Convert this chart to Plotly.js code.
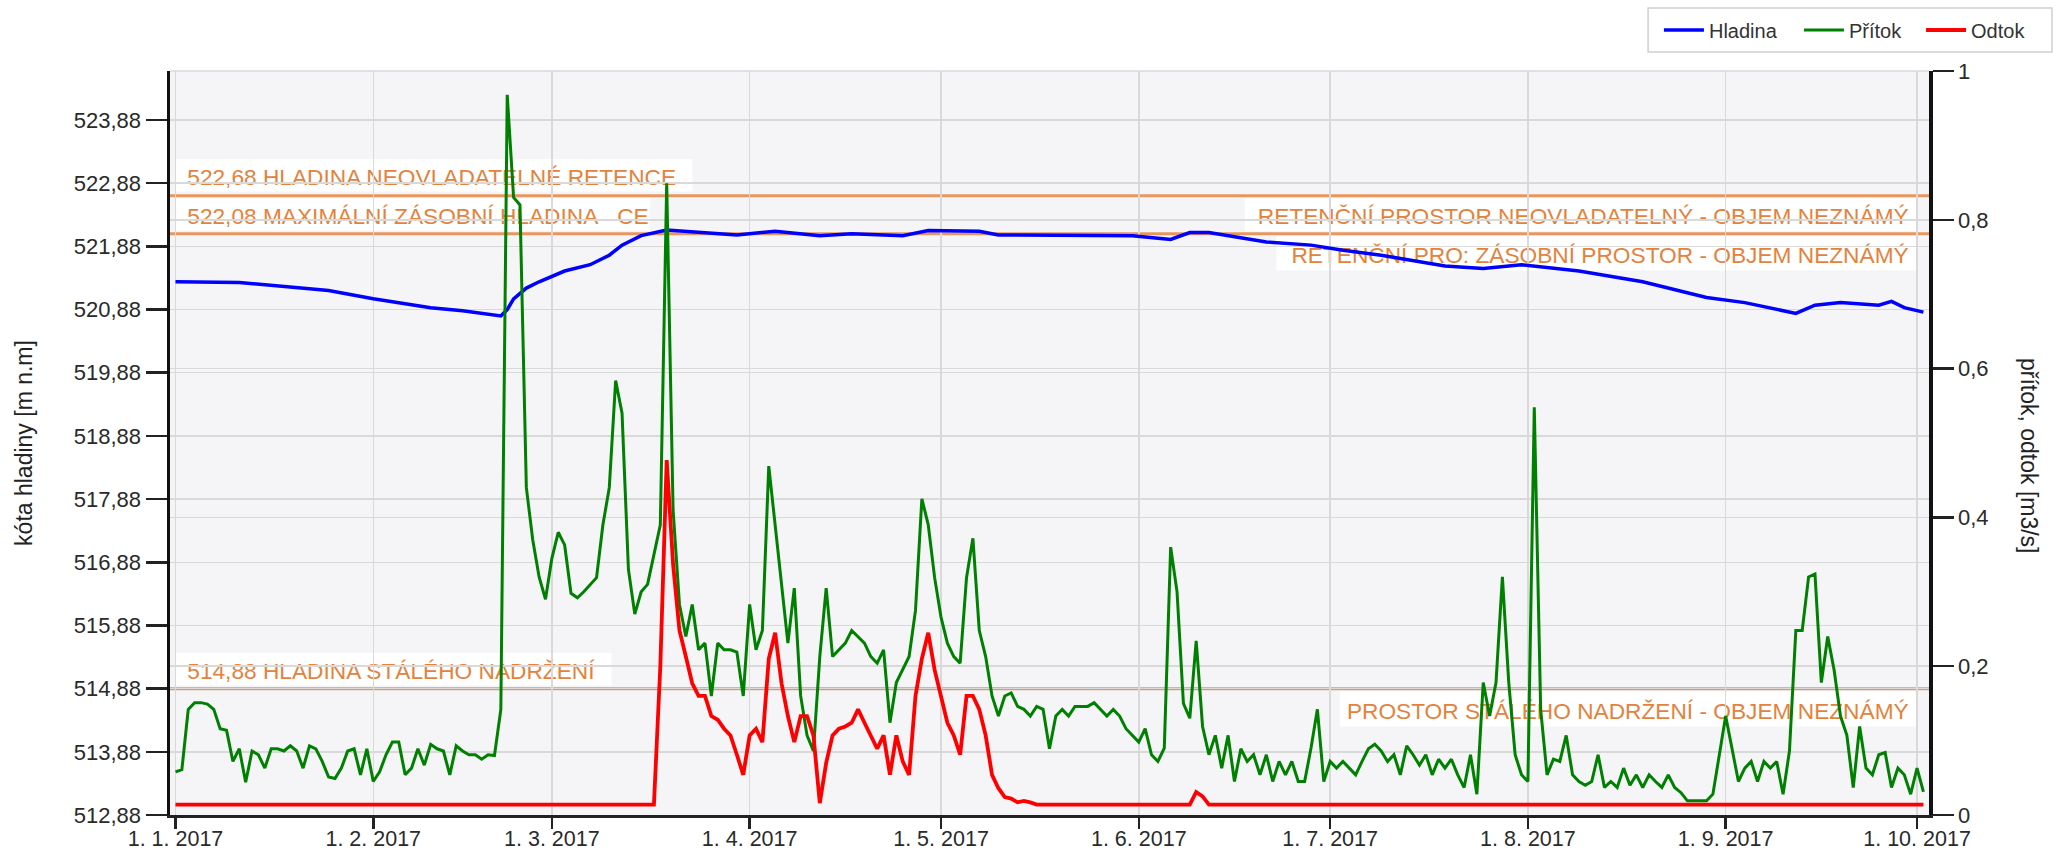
<!DOCTYPE html>
<html>
<head>
<meta charset="utf-8">
<script src="https://cdn.plot.ly/plotly-3.0.1.min.js"></script>
<style>html,body{margin:0;padding:0;background:#fff}#chart{width:2059px;height:857px}</style>
</head>
<body>
<div id="chart"></div>
<script>
// ---- data ----
const startDate = [2017, 0, 1];

// Hladina: day offset from 1.1.2017 and level [m n.m.]
const hladinaDays = [0, 10, 24, 31, 40, 45, 51, 52, 53, 55, 57, 61, 65, 68, 70, 73, 77, 88, 94, 101, 106, 114, 118, 126, 129, 150, 156, 159, 162, 171, 178, 183, 189, 199, 205, 211, 220, 230, 240, 246, 254, 257, 261, 267, 269, 271, 274];
const hladinaValues = [521.32, 521.31, 521.18, 521.05, 520.91, 520.86, 520.78, 520.88, 521.05, 521.22, 521.32, 521.49, 521.59, 521.74, 521.90, 522.05, 522.14, 522.06, 522.12, 522.05, 522.08, 522.05, 522.13, 522.12, 522.06, 522.05, 521.99, 522.10, 522.10, 521.95, 521.90, 521.82, 521.74, 521.57, 521.53, 521.59, 521.49, 521.32, 521.07, 520.99, 520.82, 520.95, 520.99, 520.95, 521.01, 520.91, 520.84];

// Přítok: daily values [m3/s] from 1.1.2017
const pritokValues = [
0.058,0.061,0.142,0.151,0.151,0.149,0.142,0.116,0.114,0.072,
0.089,0.044,0.086,0.081,0.063,0.089,0.089,0.086,0.093,0.086,
0.063,0.093,0.089,0.072,0.051,0.049,0.063,0.086,0.089,0.054,
0.089,0.045,0.058,0.081,0.098,0.098,0.054,0.063,0.089,0.067,
0.095,0.089,0.086,0.054,0.093,0.086,0.081,0.081,0.075,0.081,
0.080,0.142,0.968,0.830,0.820,0.440,0.370,0.320,0.290,0.345,
0.380,0.363,0.298,0.292,0.300,0.310,0.319,0.390,0.440,0.584,
0.540,0.330,0.270,0.300,0.310,0.350,0.390,0.849,0.410,0.283,
0.240,0.283,0.222,0.231,0.160,0.231,0.222,0.222,0.219,0.160,
0.283,0.222,0.248,0.469,0.390,0.310,0.231,0.305,0.160,0.107,
0.086,0.213,0.305,0.213,0.222,0.231,0.248,0.240,0.231,0.213,
0.204,0.222,0.124,0.178,0.195,0.213,0.275,0.425,0.390,0.319,
0.266,0.231,0.213,0.204,0.319,0.372,0.248,0.213,0.160,0.133,
0.160,0.164,0.146,0.142,0.133,0.146,0.142,0.089,0.133,0.142,
0.133,0.146,0.146,0.146,0.151,0.142,0.133,0.142,0.133,0.116,
0.107,0.098,0.116,0.081,0.072,0.090,0.360,0.300,0.150,0.130,
0.234,0.119,0.081,0.107,0.063,0.107,0.045,0.089,0.072,0.081,
0.054,0.081,0.045,0.072,0.054,0.072,0.045,0.045,0.090,0.142,
0.045,0.072,0.063,0.072,0.063,0.054,0.072,0.089,0.095,0.086,
0.072,0.081,0.054,0.093,0.081,0.067,0.081,0.054,0.075,0.063,
0.075,0.054,0.037,0.081,0.028,0.178,0.133,0.178,0.320,0.178,
0.081,0.054,0.045,0.548,0.142,0.054,0.075,0.072,0.107,0.054,
0.045,0.040,0.045,0.081,0.037,0.045,0.037,0.063,0.040,0.054,
0.037,0.054,0.045,0.037,0.054,0.037,0.030,0.019,0.019,0.019,
0.019,0.028,0.081,0.133,0.089,0.045,0.063,0.072,0.045,0.072,
0.063,0.072,0.028,0.086,0.248,0.248,0.320,0.324,0.178,0.240,
0.195,0.133,0.107,0.037,0.119,0.063,0.054,0.081,0.084,0.037,
0.063,0.054,0.028,0.063,0.031
];

// Odtok: day offset from 1.1.2017 and discharge [m3/s]
const odtokDays = [0, 75, 76, 77, 78, 79, 80, 81, 82, 83, 84, 85, 86, 87, 88, 89, 90, 91, 92, 93, 94, 95, 96, 97, 98, 99, 100, 101, 102, 103, 104, 105, 106, 107, 108, 109, 110, 111, 112, 113, 114, 115, 116, 117, 118, 119, 120, 121, 122, 123, 124, 125, 126, 127, 128, 129, 130, 131, 132, 133, 134, 135, 159, 160, 161, 162, 274];
const odtokValues = [0.014, 0.014, 0.200, 0.477, 0.337, 0.248, 0.213, 0.177, 0.160, 0.160, 0.133, 0.128, 0.116, 0.107, 0.081, 0.054, 0.107, 0.116, 0.098, 0.210, 0.245, 0.177, 0.133, 0.098, 0.133, 0.133, 0.107, 0.016, 0.070, 0.107, 0.116, 0.119, 0.124, 0.142, 0.124, 0.107, 0.089, 0.107, 0.054, 0.107, 0.072, 0.054, 0.160, 0.210, 0.245, 0.195, 0.160, 0.124, 0.107, 0.081, 0.160, 0.160, 0.142, 0.107, 0.054, 0.036, 0.024, 0.022, 0.017, 0.019, 0.017, 0.014, 0.014, 0.031, 0.025, 0.014, 0.014];

// Reference levels
const levelValues = [522.68, 522.08, 514.88];
const levelLabelsAbove = ['522,68 HLADINA NEOVLADATELNÉ RETENCE', '522,08 MAXIMÁLNÍ ZÁSOBNÍ HLADINA\u00a0\u00a0\u00a0CE', '514,88 HLADINA STÁLÉHO NADRŽENÍ'];
const levelLabelsBelow = ['RETENČNÍ PROSTOR NEOVLADATELNÝ - OBJEM NEZNÁMÝ', 'RETENČNÍ PRO: ZÁSOBNÍ PROSTOR - OBJEM NEZNÁMÝ', 'PROSTOR STÁLÉHO NADRŽENÍ - OBJEM NEZNÁMÝ'];

const seriesNames = ['Hladina', 'Přítok', 'Odtok'];
const yLeftTitle = 'kóta hladiny [m n.m]';
const yRightTitle = 'přítok, odtok [m3/s]';

// ---- helpers ----
function dayToDate(d) {
  const t = new Date(Date.UTC(startDate[0], startDate[1], startDate[2] + d));
  return t.toISOString().slice(0, 10);
}
const hladinaX = hladinaDays.map(dayToDate);
const pritokX = pritokValues.map((v, i) => dayToDate(i));
const odtokX = odtokDays.map(dayToDate);

const FONT = 'Liberation Sans, Arial, sans-serif';
const labelColor = '#e4823c';
const lineColor = '#e8965e';

const traces = [
  {x: hladinaX, y: hladinaValues, name: seriesNames[0], type: 'scatter', mode: 'lines',
   line: {color: '#0000ff', width: 3.5}, yaxis: 'y', legend: 'legend'},
  {x: pritokX, y: pritokValues, name: seriesNames[1], type: 'scatter', mode: 'lines',
   line: {color: '#008000', width: 3}, yaxis: 'y2', legend: 'legend2'},
  {x: odtokX, y: odtokValues, name: seriesNames[2], type: 'scatter', mode: 'lines',
   line: {color: '#ff0000', width: 3.8}, yaxis: 'y2', legend: 'legend3'}
];

// label boxes geometry (plot-fraction x extents)
const aboveX1 = [0.297, 0.273, 0.251];
const belowX0 = [0.611, 0.629, 0.665];
const aboveOff = [[0.07, 0.58], [0.05, 0.56], [0.05, 0.57]];
const belowOff = [[-0.56, -0.04], [-0.58, -0.04], [-0.6, -0.04]];

const shapes = [];
levelValues.forEach((lv, i) => {
  shapes.push({type: 'line', xref: 'paper', x0: 0, x1: 1, yref: 'y', y0: lv, y1: lv,
    line: {color: lineColor, width: 3}, layer: 'between'});
  shapes.push({type: 'rect', xref: 'paper', x0: 0.003, x1: aboveX1[i], yref: 'y', y0: lv + aboveOff[i][0], y1: lv + aboveOff[i][1],
    fillcolor: '#ffffff', line: {width: 0}, layer: 'between',
    label: {text: levelLabelsAbove[i], textposition: 'middle left', padding: 9,
      font: {family: FONT, size: 22.7, color: labelColor}}});
  shapes.push({type: 'rect', xref: 'paper', x0: belowX0[i], x1: 0.993, yref: 'y', y0: lv + belowOff[i][0], y1: lv + belowOff[i][1],
    fillcolor: '#ffffff', line: {width: 0}, layer: 'between',
    label: {text: levelLabelsBelow[i], textposition: 'middle right', padding: 5,
      font: {family: FONT, size: 22.7, color: labelColor}}});
});
shapes.push({type: 'line', xref: 'paper', x0: 0, x1: 1, yref: 'paper', y0: 1, y1: 1,
  line: {color: '#d8d8d8', width: 1.5}, layer: 'below'});
// legend frame
shapes.push({type: 'rect', xref: 'paper', yref: 'paper', x0: 0.8403, x1: 1.0699, y0: 1.0255, y1: 1.0847,
  line: {color: '#d0d0d0', width: 1.5}, fillcolor: 'rgba(0,0,0,0)', layer: 'above'});

function legendAt(xc) {
  return {orientation: 'h', xref: 'container', yref: 'container', x: xc, y: 0.965,
    xanchor: 'left', yanchor: 'middle', bgcolor: 'rgba(0,0,0,0)', borderwidth: 0,
    font: {family: FONT, size: 20, color: '#333'}, itemwidth: 40};
}

const layout = {
  width: 2059, height: 857,
  margin: {l: 170, r: 130, t: 71, b: 42, pad: 0},
  paper_bgcolor: '#ffffff',
  plot_bgcolor: '#f5f5f8',
  separators: ', ',
  font: {family: FONT, size: 22, color: '#2a2a2a'},
  showlegend: true,
  legend: legendAt(0.8057),
  legend2: legendAt(0.8737),
  legend3: legendAt(0.9330),
  xaxis: {
    type: 'date',
    range: ['2016-12-31 03:20', '2017-10-02 21:00'],
    tick0: '2017-01-01', dtick: 'M1', tickformat: '%-d. %-m. %Y',
    ticks: 'outside', ticklen: 11, tickwidth: 2.5, tickcolor: '#222',
    showline: true, linecolor: '#222', linewidth: 3,
    showgrid: true, gridcolor: '#d9d9d9', gridwidth: 1.5, zeroline: false,
    ticklabelstandoff: -9,
    tickfont: {family: FONT, size: 21.5, color: '#2a2a2a'}
  },
  yaxis: {
    range: [512.88, 524.656], tick0: 512.88, dtick: 1, tickformat: '.2f',
    ticks: 'outside', ticklen: 21, tickwidth: 2.5, tickcolor: '#222',
    showline: true, linecolor: '#111', linewidth: 3.5,
    showgrid: true, gridcolor: '#d9d9d9', gridwidth: 1.5, zeroline: false,
    tickfont: {family: FONT, size: 22, color: '#2a2a2a'},
    title: {text: yLeftTitle, font: {family: FONT, size: 23, color: '#222'}, standoff: 36}
  },
  yaxis2: {
    overlaying: 'y', side: 'right', range: [0, 1], dtick: 0.2,
    ticks: 'outside', ticklen: 21, tickwidth: 2.5, tickcolor: '#222',
    showline: true, linecolor: '#111', linewidth: 3.5,
    showgrid: true, gridcolor: '#d9d9d9', gridwidth: 1.5, zeroline: false,
    tickfont: {family: FONT, size: 22, color: '#2a2a2a'}
  },
  shapes: shapes,
  annotations: [
    {text: yRightTitle, xref: 'paper', yref: 'paper', x: 1.0569, y: 0.4825, textangle: 90,
     showarrow: false, font: {family: FONT, size: 23, color: '#222'}, xanchor: 'center', yanchor: 'middle'}
  ]
};

Plotly.newPlot('chart', traces, layout, {displayModeBar: false, staticPlot: true});
</script>
</body>
</html>
